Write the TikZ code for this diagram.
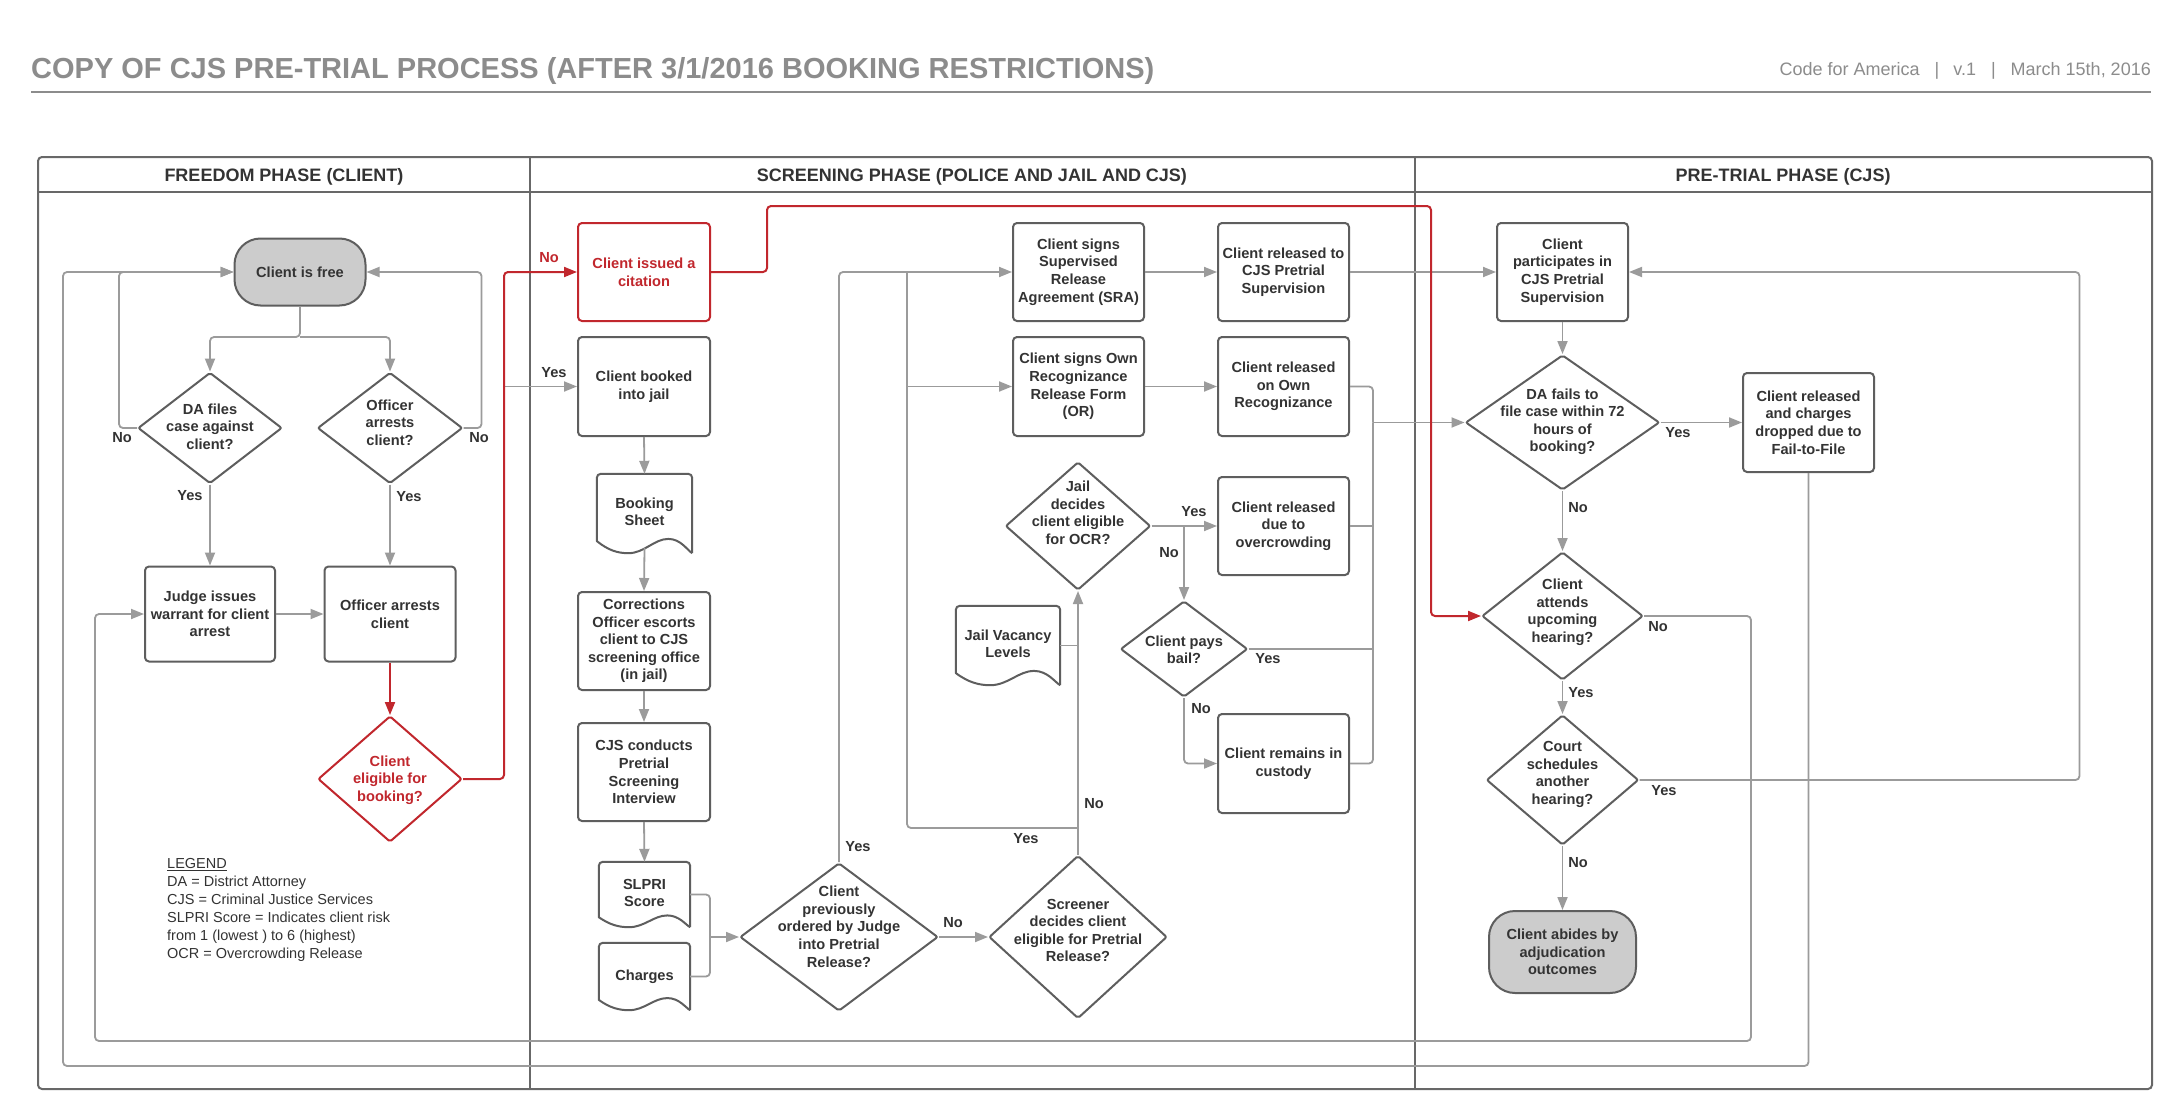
\documentclass[tikz,border=0pt]{standalone}
\usepackage{fontspec}
\setmainfont{Liberation Sans}
\usetikzlibrary{shapes.geometric,arrows.meta,calc}
\definecolor{tx}{HTML}{333333}
\definecolor{bd}{HTML}{5E5E5E}
\definecolor{ln}{HTML}{9B9B9B}
\definecolor{rd}{HTML}{C1272D}
\definecolor{pillc}{HTML}{CCCCCC}
\definecolor{ttl}{HTML}{8C8C8C}
\definecolor{framec}{HTML}{686868}
\newcommand{\nodefnt}{\fontsize{14.6}{17.6}\selectfont\bfseries}
\newcommand{\dtxt}[2][0pt]{\makebox[0pt]{\smash{\raisebox{#1}{\begin{tabular}{@{}c@{}}#2\end{tabular}}}}}
\newcommand{\docline}[1]{%
 \draw[draw=bd, line width=2pt, line join=round] let \p1=(#1.south west), \p2=(#1.north east), \n1={\x2-\x1}, \n2={0.18*(\y2-\y1)} in
 (\x2,\y1) -- (\x2,\y2-4pt) .. controls (\x2,\y2-1.8pt) and (\x2-1.8pt,\y2) .. (\x2-4pt,\y2)
 -- (\x1+4pt,\y2) .. controls (\x1+1.8pt,\y2) and (\x1,\y2-1.8pt) .. (\x1,\y2-4pt)
 -- (\x1,\y1+0.85*\n2)
 .. controls (\x1+0.12*\n1,\y1+0.2*\n2) and (\x1+0.22*\n1,\y1) .. (\x1+0.33*\n1,\y1)
 .. controls (\x1+0.5*\n1,\y1) and (\x1+0.6*\n1,\y1+\n2) .. (\x1+0.75*\n1,\y1+\n2)
 .. controls (\x1+0.88*\n1,\y1+\n2) and (\x1+0.95*\n1,\y1+0.2*\n2) .. (\x2,\y1);}
\begin{document}
\begin{tikzpicture}[x=1pt,y=-1pt,
 box/.style={draw=bd, line width=2pt, rounded corners=4pt, fill=white, text=tx, font=\nodefnt, align=center, inner sep=2pt},
 dia/.style={diamond, draw=bd, line width=2pt, rounded corners=2pt, fill=white, text=tx, font=\nodefnt, inner sep=0pt},
 pillbox/.style={box, fill=pillc, rounded corners=26pt},
 docnode/.style={text=tx, font=\nodefnt, align=center, inner sep=0pt},
 conn/.style={draw=ln, line width=1.8pt, rounded corners=4pt},
 arr/.style={conn, -{Triangle[length=13pt,width=10pt]}},
 rconn/.style={draw=rd, line width=2pt, rounded corners=4pt},
 rarr/.style={rconn, -{Triangle[length=13pt,width=10pt]}},
 lbl/.style={font=\nodefnt, text=tx, inner sep=0pt},
 hdr/.style={font=\fontsize{18}{20}\selectfont\bfseries, text=tx, inner sep=0pt},
 sz/.style 2 args={minimum width=#1pt, minimum height=#2pt}
]
\fill[white] (0,0) rectangle (2182,1116);
\useasboundingbox (0,0) rectangle (2182,1116);

% title
\node[anchor=base west, font=\fontsize{29}{32}\selectfont\bfseries, text=ttl, inner sep=0pt] (title) at (31,78) {COPY OF CJS PRE-TRIAL PROCESS (AFTER 3/1/2016 BOOKING RESTRICTIONS)};
\node[anchor=base east, font=\fontsize{18}{20}\selectfont, text=ttl, inner sep=0pt] (meta) at (2151,76) {Code for America\hspace{15pt}|\hspace{14pt}v.1\hspace{15pt}|\hspace{15pt}March 15th, 2016};
\draw[draw=ttl, line width=2pt] (31,92) -- (2151,92);

% frame
\draw[draw=framec, line width=2pt, rounded corners=4pt] (38,157) rectangle (2152,1089);
\draw[draw=framec, line width=2pt] (38,192) -- (2152,192);
\draw[draw=framec, line width=2pt] (530,157) -- (530,1089);
\draw[draw=framec, line width=2pt] (1415,157) -- (1415,1089);
\node[hdr] (h1) at (284,177) {FREEDOM PHASE (CLIENT)};
\node[hdr] (h2) at (972,177) {SCREENING PHASE (POLICE AND JAIL AND CJS)};
\node[hdr] (h3) at (1783,177) {PRE-TRIAL PHASE (CJS)};

% freedom phase
\node[pillbox, sz={131}{67}] (free) at (300,272) {Client is free};
\node[dia, sz={144}{111}] (da) at (210,428) {\dtxt[-4pt]{DA files\\case against\\client?}};
\node[dia, sz={145}{111}] (off) at (390,428) {\dtxt{Officer\\arrests\\client?}};
\node[box, sz={130}{95}] (judge) at (210,614) {Judge issues\\warrant for client\\arrest};
\node[box, sz={131}{95}] (arrests) at (390,614) {Officer arrests\\client};
\node[dia, draw=rd, text=rd, sz={144}{126}] (elig) at (390,779) {\dtxt[-5pt]{Client\\eligible for\\booking?}};
\node[anchor=north west, align=left, font=\fontsize{14.5}{18}\selectfont, text=tx, inner sep=0pt] (legend) at (167,858) {\underline{LEGEND}\\DA = District Attorney\\CJS = Criminal Justice Services\\SLPRI Score = Indicates client risk\\from 1 (lowest ) to 6 (highest)\\OCR = Overcrowding Release};

% screening phase
\node[box, draw=rd, text=rd, sz={132}{98}] (cit) at (644,272) {Client issued a\\citation};
\node[box, sz={132}{99}] (booked) at (644,386.5) {Client booked\\into jail};
\node[docnode, sz={95}{79}] (sheet) at (644.5,513.5) {\raisebox{4pt}{\begin{tabular}{@{}c@{}}Booking\\Sheet\end{tabular}}};
\node[box, sz={132}{98}] (corr) at (644,641) {Corrections\\Officer escorts\\client to CJS\\screening office\\(in jail)};
\node[box, sz={132}{98}] (cjs) at (644,772) {CJS conducts\\Pretrial\\Screening\\Interview};
\node[docnode, sz={91}{65}] (slpri) at (644.5,894.5) {\raisebox{3pt}{\begin{tabular}{@{}c@{}}SLPRI\\Score\end{tabular}}};
\node[docnode, sz={91}{67}] (charges) at (644.5,976.5) {Charges};
\node[dia, sz={198}{148}] (prev) at (839,937) {\dtxt[5pt]{Client\\previously\\ordered by Judge\\into Pretrial\\Release?}};
\node[dia, sz={178}{163}] (scr) at (1078,937) {\dtxt[1.5pt]{Screener\\decides client\\eligible for Pretrial\\Release?}};
\node[docnode, sz={104}{79}] (jail) at (1008,645.5) {\raisebox{4pt}{\begin{tabular}{@{}c@{}}Jail Vacancy\\Levels\end{tabular}}};
\node[dia, sz={145}{128}] (ocr) at (1078,526) {\dtxt[8pt]{Jail\\decides\\client eligible\\for OCR?}};
\node[dia, sz={127}{96}] (bail) at (1184,649) {\dtxt[-6pt]{Client pays\\bail?}};
\node[box, sz={131}{99}] (cust) at (1283.5,763.5) {Client remains in\\custody};
\node[box, sz={131}{98}] (roc) at (1283.5,526) {Client released\\due to\\overcrowding};
\node[box, sz={131}{98}] (sra) at (1078.5,272) {Client signs\\Supervised\\Release\\Agreement (SRA)};
\node[box, sz={131}{99}] (orf) at (1078.5,386.5) {Client signs Own\\Recognizance\\Release Form\\(OR)};
\node[box, sz={131}{98}] (rcjs) at (1283.5,272) {Client released to\\CJS Pretrial\\Supervision};
\node[box, sz={131}{99}] (ror) at (1283.5,386.5) {Client released\\on Own\\Recognizance};

% pre-trial phase
\node[box, sz={131}{98}] (part) at (1562.5,272) {Client\\participates in\\CJS Pretrial\\Supervision};
\node[dia, sz={194}{135}] (dafail) at (1562.5,422.5) {\dtxt[-3pt]{DA fails to\\file case within 72\\hours of\\booking?}};
\node[box, sz={131}{99}] (ftf) at (1808.5,422.5) {Client released\\and charges\\dropped due to\\Fail-to-File};
\node[dia, sz={161}{128}] (att) at (1562.5,616) {\dtxt{Client\\attends\\upcoming\\hearing?}};
\node[dia, sz={152}{130}] (court) at (1562.5,780) {\dtxt[2pt]{Court\\schedules\\another\\hearing?}};
\node[pillbox, sz={147}{82}] (abide) at (1562.5,952) {Client abides by\\adjudication\\outcomes};

% document outlines
\docline{sheet}
\docline{slpri}
\docline{charges}
\docline{jail}

% connectors: freedom
\coordinate (split) at (300,337);
\draw[arr] (free.south) -- (split) -| (da.north);
\draw[arr] (split) -| (off.north);
\draw[arr] (da.west) -- ++(-18,0) |- (free.west);
\draw[arr] (off.east) -- ++(18,0) |- (free.east);
\draw[arr] (da.south) -- (judge.north);
\draw[arr] (off.south) -- (arrests.north);
\draw[arr] (judge.east) -- (arrests.west);
\coordinate (rv) at (504,779);
\draw[arr] (booked.west -| rv) -- (booked.west);
\draw[rarr] (arrests.south) -- (elig.north);
\draw[rarr] (elig.east) -- (rv) |- (cit.west);

% connectors: screening
\coordinate (rt1) at (767,206);
\coordinate (rt2) at (1431,206);
\draw[arr] (booked.south) -- (sheet.north);
\draw[arr] ([yshift=5pt]sheet.south) -- (corr.north);
\draw[arr] (corr.south) -- (cjs.north);
\draw[arr] (cjs.south) -- (slpri.north);
\coordinate (brk) at (710,937);
\draw[conn] (slpri.east) -| (brk);
\draw[conn] (charges.east) -| (brk);
\draw[arr] (brk) -- (prev.west);
\draw[arr] (prev.east) -- (scr.west);
\draw[arr] (prev.north) |- (sra.west);
\draw[arr] (scr.north) -- (ocr.south);
\coordinate (sy) at (1078,828);
\coordinate (sx) at (907,828);
\coordinate (sxt) at (907,272);
\draw[conn] (sy) -- (sx) -- (sxt);
\draw[arr] (sx |- orf.west) -- (orf.west);
\draw[conn] (jail.east) -- (jail.east -| scr.north);
\draw[arr] (sra.east) -- (rcjs.west);
\draw[arr] (orf.east) -- (ror.west);
\draw[arr] (ocr.east) -- (roc.west);
\draw[arr] (ocr.east -| bail.north) -- (bail.north);
\draw[arr] (bail.south) |- (cust.west);
\coordinate (mx) at (1373,422.5);
\draw[conn] (ror.east) -| (mx);
\draw[conn] (cust.east) -| (mx);
\draw[conn] (roc.east) -- (roc.east -| mx);
\draw[conn] (bail.east) -- (bail.east -| mx);
\draw[arr] (mx) -- (dafail.west);
\draw[arr] (rcjs.east) -- (part.west);

% connectors: pre-trial
\draw[arr] (part.south) -- (dafail.north);
\draw[arr] (dafail.east) -- (ftf.west);
\draw[arr] (dafail.south) -- (att.north);
\draw[arr] (att.south) -- (court.north);
\draw[arr] (court.south) -- (abide.north);
\draw[arr] (court.east) -- ++(440,0) |- (part.east);
\coordinate (l1) at (1751,1041);
\coordinate (l2) at (95,1041);
\draw[arr] (att.east) -| (l1) -- (l2) |- (judge.west);
\coordinate (m2) at (63,1066);
\draw[arr] (ftf.south) |- (m2) |- (free.west);
\draw[rarr] (cit.east) -| (rt1) -- (rt2) |- (att.west);

% labels
\node[lbl] (n1) at (122,438) {No};
\node[lbl] (n2) at (479,438) {No};
\node[lbl] (y1) at (190,496) {Yes};
\node[lbl] (y2) at (409,497) {Yes};
\node[lbl, text=rd] (n3) at (549,258) {No};
\node[lbl] (y3) at (554,373) {Yes};
\node[lbl] (n4) at (953,923) {No};
\node[lbl] (y4) at (858,847) {Yes};
\node[lbl] (y5) at (1026,839) {Yes};
\node[lbl] (n5) at (1094,804) {No};
\node[lbl] (y6) at (1194,512) {Yes};
\node[lbl] (n6) at (1169,553) {No};
\node[lbl] (y7) at (1268,659) {Yes};
\node[lbl] (n7) at (1201,709) {No};
\node[lbl] (y8) at (1678,433) {Yes};
\node[lbl] (n8) at (1578,508) {No};
\node[lbl] (n9) at (1658,627) {No};
\node[lbl] (y9) at (1581,693) {Yes};
\node[lbl] (y10) at (1664,791) {Yes};
\node[lbl] (n10) at (1578,863) {No};
\end{tikzpicture}
\end{document}
